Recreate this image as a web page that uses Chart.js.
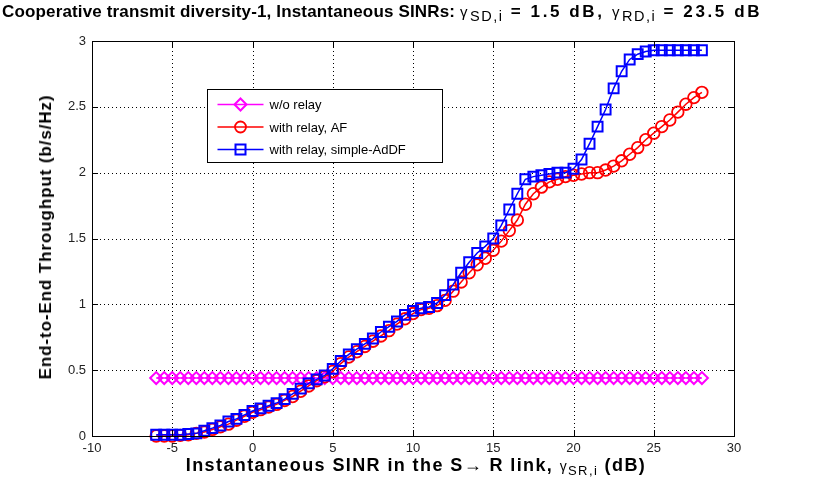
<!DOCTYPE html>
<html>
<head>
<meta charset="utf-8">
<script src="https://cdn.jsdelivr.net/npm/chart.js@4"></script>
<style>
  body { margin: 0; background: #fff; }
  #wrap { position: relative; width: 815px; height: 500px; overflow: hidden; }
  .lbl { position: absolute; font-family: "Liberation Sans", Arial, sans-serif; color: #000; white-space: nowrap; font-weight: bold; }
  .g { font-weight: normal; font-size: 14px; }
  sub { font-weight: normal; font-size: 13px; vertical-align: -0.3em; line-height: 0; }
  #title { top: 2px; left: 2px; font-size: 17px; letter-spacing: 0.15px; }
  #title .rest { letter-spacing: 2.6px; }
  #title .rest sub { font-size: 14.5px; letter-spacing: 1.5px; }
  #title .rest .g { font-size: 15px; }
  #xlab { top: 455px; left: 416px; font-size: 18px; letter-spacing: 1.4px; transform: translateX(-50%); }
  #ylab { top: 237px; left: 46px; font-size: 17px; letter-spacing: 0.9px; transform: translate(-50%, -50%) rotate(-90deg); }
</style>
</head>
<body>
<div id="wrap">
  <canvas id="chart" width="815" height="500"></canvas>
  <div class="lbl" id="title">Cooperative transmit diversity-1, Instantaneous SINRs: <span class="rest"><span class="g">&gamma;</span><sub>SD,i</sub> = 1.5 dB, <span class="g">&gamma;</span><sub>RD,i</sub> = 23.5 dB</span></div>
  <div class="lbl" id="xlab">Instantaneous SINR in the S&rarr; R link, <span class="g">&gamma;</span><sub>SR,i</sub> (dB)</div>
  <div class="lbl" id="ylab">End-to-End Throughput (b/s/Hz)</div>
</div>
<script>
// SINR on the S->R link (dB)
const sinrSR = [
  -6, -5.5, -5, -4.5, -4, -3.5, -3, -2.5, -2, -1.5,
  -1, -0.5, 0, 0.5, 1, 1.5, 2, 2.5, 3, 3.5,
  4, 4.5, 5, 5.5, 6, 6.5, 7, 7.5, 8, 8.5,
  9, 9.5, 10, 10.5, 11, 11.5, 12, 12.5, 13, 13.5,
  14, 14.5, 15, 15.5, 16, 16.5, 17, 17.5, 18, 18.5,
  19, 19.5, 20, 20.5, 21, 21.5, 22, 22.5, 23, 23.5,
  24, 24.5, 25, 25.5, 26, 26.5, 27, 27.5, 28
];

const noRelay = [
  0.44, 0.44, 0.44, 0.44, 0.44, 0.44, 0.44, 0.44, 0.44, 0.44,
  0.44, 0.44, 0.44, 0.44, 0.44, 0.44, 0.44, 0.44, 0.44, 0.44,
  0.44, 0.44, 0.44, 0.44, 0.44, 0.44, 0.44, 0.44, 0.44, 0.44,
  0.44, 0.44, 0.44, 0.44, 0.44, 0.44, 0.44, 0.44, 0.44, 0.44,
  0.44, 0.44, 0.44, 0.44, 0.44, 0.44, 0.44, 0.44, 0.44, 0.44,
  0.44, 0.44, 0.44, 0.44, 0.44, 0.44, 0.44, 0.44, 0.44, 0.44,
  0.44, 0.44, 0.44, 0.44, 0.44, 0.44, 0.44, 0.44, 0.44
];

const relayAF = [
  0.0, 0.0, 0.0, 0.005, 0.01, 0.02, 0.03, 0.05, 0.07, 0.09,
  0.12, 0.15, 0.18, 0.2, 0.22, 0.24, 0.27, 0.3, 0.34, 0.38,
  0.42, 0.45, 0.49, 0.55, 0.6, 0.64, 0.68, 0.72, 0.76, 0.8,
  0.85, 0.89, 0.93, 0.96, 0.97, 0.99, 1.03, 1.1, 1.17, 1.24,
  1.3, 1.35, 1.41, 1.48, 1.56, 1.64, 1.76, 1.84, 1.89, 1.93,
  1.95, 1.97, 1.98, 1.99, 2.0, 2.0, 2.02, 2.05, 2.09, 2.14,
  2.19, 2.25, 2.3, 2.35, 2.4, 2.46, 2.52, 2.57, 2.61
];

const relayAdDF = [
  0.01, 0.01, 0.01, 0.01, 0.015, 0.02, 0.04, 0.06, 0.08, 0.11,
  0.13, 0.16, 0.19, 0.21, 0.23, 0.25, 0.28, 0.32, 0.36, 0.40,
  0.43, 0.46, 0.51, 0.57, 0.62, 0.66, 0.70, 0.74, 0.79, 0.83,
  0.87, 0.92, 0.95, 0.97, 0.98, 1.01, 1.07, 1.15, 1.24, 1.32,
  1.39, 1.44, 1.50, 1.60, 1.72, 1.84, 1.95, 1.97, 1.98, 1.99,
  2.0, 2.0, 2.03, 2.10, 2.22, 2.35, 2.48, 2.64, 2.77, 2.86,
  2.90, 2.92, 2.93, 2.93, 2.93, 2.93, 2.93, 2.93, 2.93
];

const legendLabels = ['w/o relay', 'with relay, AF', 'with relay, simple-AdDF'];

const toPoints = (ys) => ys.map((y, i) => ({ x: sinrSR[i], y: y }));

// dotted grid at the tick positions, drawn under the data
const dottedGrid = {
    id: 'dottedGrid',
    beforeDatasetsDraw(chart) {
        const { ctx, chartArea: a, scales } = chart;
        ctx.save();
        ctx.strokeStyle = '#000';
        ctx.lineWidth = 1;
        ctx.setLineDash([1, 3]);
        ctx.beginPath();
        scales.x.ticks.forEach(t => {
            const px = Math.round(scales.x.getPixelForValue(t.value)) + 0.5;
            ctx.moveTo(px, a.bottom); ctx.lineTo(px, a.top);
        });
        scales.y.ticks.forEach(t => {
            const py = Math.round(scales.y.getPixelForValue(t.value)) + 0.5;
            ctx.moveTo(a.left, py); ctx.lineTo(a.right, py);
        });
        ctx.stroke();
        ctx.restore();
    }
};

// box round the axes plus inward tick marks (matlab style)
const axesBox = {
    id: 'axesBox',
    afterDraw(chart) {
        const { ctx, chartArea: a, scales } = chart;
        ctx.save();
        ctx.setLineDash([]);
        ctx.strokeStyle = '#000';
        ctx.lineWidth = 1;
        ctx.beginPath();
        scales.x.ticks.forEach(t => {
            const px = Math.round(scales.x.getPixelForValue(t.value)) + 0.5;
            ctx.moveTo(px, a.bottom); ctx.lineTo(px, a.bottom - 6);
            ctx.moveTo(px, a.top); ctx.lineTo(px, a.top + 6);
        });
        scales.y.ticks.forEach(t => {
            const py = Math.round(scales.y.getPixelForValue(t.value)) + 0.5;
            ctx.moveTo(a.left, py); ctx.lineTo(a.left + 6, py);
            ctx.moveTo(a.right, py); ctx.lineTo(a.right - 6, py);
        });
        ctx.stroke();
        ctx.strokeRect(Math.round(a.left) + 0.5, Math.round(a.top) + 0.5,
            Math.round(a.right - a.left), Math.round(a.bottom - a.top));
        ctx.restore();
    }
};

function marker(ctx, style, x, y) {
    ctx.beginPath();
    if (style === 'rectRot') {
        ctx.moveTo(x, y - 6); ctx.lineTo(x + 6, y); ctx.lineTo(x, y + 6); ctx.lineTo(x - 6, y); ctx.closePath();
    } else if (style === 'circle') {
        ctx.arc(x, y, 5.5, 0, Math.PI * 2);
    } else {
        ctx.rect(x - 5, y - 5, 10, 10);
    }
    ctx.stroke();
}

// legend box inside the axes, upper left
const boxLegend = {
    id: 'boxLegend',
    afterDraw(chart) {
        const ctx = chart.ctx;
        const bx = 207.5, by = 89.5, bw = 235, bh = 73;
        ctx.save();
        ctx.setLineDash([]);
        ctx.fillStyle = '#fff';
        ctx.fillRect(bx, by, bw, bh);
        ctx.strokeStyle = '#000';
        ctx.lineWidth = 1;
        ctx.strokeRect(bx, by, bw, bh);
        ctx.font = '13px "Liberation Sans", Arial, sans-serif';
        ctx.textBaseline = 'middle';
        chart.data.datasets.forEach((ds, i) => {
            const y = by + 15 + i * 22.5;
            ctx.strokeStyle = ds.borderColor;
            ctx.lineWidth = 1.5;
            ctx.beginPath();
            ctx.moveTo(bx + 10, y); ctx.lineTo(bx + 56, y);
            ctx.stroke();
            ctx.lineWidth = ds.pointBorderWidth;
            marker(ctx, ds.pointStyle, bx + 33, y);
            ctx.fillStyle = '#000';
            ctx.fillText(legendLabels[i], bx + 62, y + 1);
        });
        ctx.restore();
    }
};

const tickFont = { family: '"Liberation Sans", Arial, sans-serif', size: 13 };

new Chart(document.getElementById('chart'), {
    type: 'line',
    data: {
        datasets: [
            {
                label: legendLabels[0],
                data: toPoints(noRelay),
                borderColor: '#FF00FF',
                backgroundColor: 'rgba(0,0,0,0)',
                borderWidth: 1.5,
                pointStyle: 'rectRot',
                pointRadius: 6,
                pointBorderWidth: 2,
                pointBackgroundColor: 'rgba(0,0,0,0)',
                order: 3,
                clip: false
            },
            {
                label: legendLabels[1],
                data: toPoints(relayAF),
                borderColor: '#FF0000',
                backgroundColor: 'rgba(0,0,0,0)',
                borderWidth: 1.5,
                pointStyle: 'circle',
                pointRadius: 5.8,
                pointBorderWidth: 1.8,
                pointBackgroundColor: 'rgba(0,0,0,0)',
                order: 2,
                clip: false
            },
            {
                label: legendLabels[2],
                data: toPoints(relayAdDF),
                borderColor: '#0000FF',
                backgroundColor: 'rgba(0,0,0,0)',
                borderWidth: 1.5,
                pointStyle: 'rect',
                pointRadius: 7,
                pointBorderWidth: 2,
                pointBackgroundColor: 'rgba(0,0,0,0)',
                order: 1,
                clip: false
            }
        ]
    },
    options: {
        responsive: false,
        animation: false,
        devicePixelRatio: 1,
        layout: { padding: { top: 41, right: 81, left: 0, bottom: 0 } },
        plugins: { legend: { display: false }, tooltip: { enabled: false } },
        elements: { line: { tension: 0 } },
        scales: {
            x: {
                type: 'linear',
                min: -10, max: 30,
                afterFit: (s) => { s.height = 64; },
                border: { display: false },
                grid: { display: false, drawTicks: false },
                ticks: { stepSize: 5, padding: 5, color: '#222', font: tickFont, maxRotation: 0,
                         callback: (v) => String(v) }
            },
            y: {
                min: 0, max: 3,
                afterFit: (s) => { s.width = 92; },
                border: { display: false },
                grid: { display: false, drawTicks: false },
                ticks: { stepSize: 0.5, padding: 6, color: '#222', font: tickFont,
                         callback: (v) => String(v) }
            }
        }
    },
    plugins: [dottedGrid, axesBox, boxLegend]
});
</script>
</body>
</html>
